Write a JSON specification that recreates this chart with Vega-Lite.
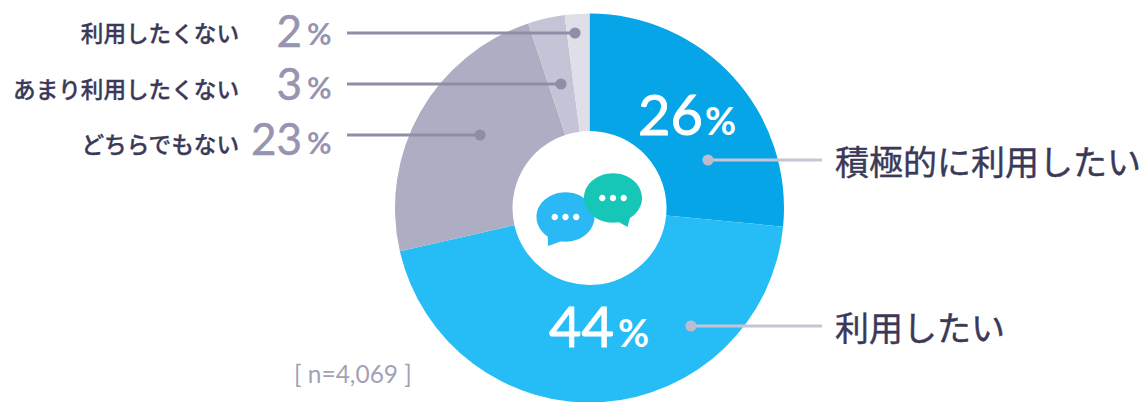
{
 "$schema":"https://vega.github.io/schema/vega-lite/v6.json",
 "width":1118,"height":388,
 "autosize":{"type":"none"},
 "padding":{"left":30.5,"top":14,"right":0,"bottom":0},
 "background":"white",
 "config":{"view":{"stroke":null}},
 "data":{"values":[
  {"rank":1,"category":"積極的に利用したい","share":26,"side":"right"},
  {"rank":2,"category":"利用したい","share":44,"side":"right"},
  {"rank":3,"category":"どちらでもない","share":23,"side":"left"},
  {"rank":4,"category":"あまり利用したくない","share":3,"side":"left"},
  {"rank":5,"category":"利用したくない","share":2,"side":"left"}
 ]},
 "transform":[
  {"calculate":"[160,326,135,84,33][datum.rank-1]","as":"lineY"},
  {"calculate":"[822,822,347,347,347][datum.rank-1]","as":"lineOuter"},
  {"calculate":"[708,691,480,561,575][datum.rank-1]","as":"lineInner"},
  {"calculate":"[165,331,146,91,35][datum.rank-1]","as":"labelY"},
  {"calculate":"[835,835,239,239,239][datum.rank-1]","as":"labelX"},
  {"calculate":"[703,614,302,302,302][datum.rank-1]","as":"numX"},
  {"calculate":"[135,347,155,100,47][datum.rank-1]","as":"numY"},
  {"calculate":"[705,618,307,307,307][datum.rank-1]","as":"pctX"},
  {"calculate":"[135,347,154,99,45][datum.rank-1]","as":"pctY"}
 ],
 "layer":[
  {"mark":{"type":"arc","innerRadius":77,"outerRadius":194.5},
   "encoding":{
    "theta":{"field":"share","type":"quantitative","stack":true},
    "order":{"field":"rank","type":"ordinal"},
    "color":{"field":"rank","type":"ordinal","legend":null,"scale":{"domain":[1,2,3,4,5],"range":["#05a5e8","#26bdf7","#adadc3","#c5c4d6","#dfdfe9"]}}
   }},
  {"mark":{"type":"rule","strokeWidth":3},
   "encoding":{
    "x":{"field":"lineOuter","type":"quantitative","axis":null,"scale":{"domain":[30.5,1148.5],"nice":false,"zero":false}},
    "x2":{"field":"lineInner"},
    "y":{"field":"lineY","type":"quantitative","axis":null,"scale":{"domain":[14,402],"reverse":true,"nice":false,"zero":false}},
    "color":{"field":"side","type":"nominal","legend":null,"scale":{"domain":["left","right"],"range":["#8f8da8","#c6c5d6"]}}
   }},
  {"mark":{"type":"point","filled":true,"opacity":1,"size":125},
   "encoding":{
    "x":{"field":"lineInner","type":"quantitative"},
    "y":{"field":"lineY","type":"quantitative"},
    "color":{"field":"side","type":"nominal","legend":null,"scale":{"domain":["left","right"],"range":["#8f8da8","#bdbccd"]}}
   }},
  {"transform":[{"filter":"datum.side==='left'"}],
   "mark":{"type":"text","align":"right","baseline":"middle","font":"Noto Sans CJK JP","fontWeight":500,"fontSize":22.6,"color":"#3a3957","stroke":"#3a3957","strokeWidth":0.3},
   "encoding":{"x":{"field":"labelX","type":"quantitative"},"y":{"field":"labelY","type":"quantitative"},"text":{"field":"category"}}},
  {"transform":[{"filter":"datum.side==='right'"}],
   "mark":{"type":"text","align":"left","baseline":"middle","font":"Noto Sans CJK JP","fontWeight":400,"fontSize":34,"color":"#3a3957","stroke":"#3a3957","strokeWidth":0.4},
   "encoding":{"x":{"field":"labelX","type":"quantitative"},"y":{"field":"labelY","type":"quantitative"},"text":{"field":"category"}}},
  {"transform":[{"filter":"datum.side==='left'"}],
   "mark":{"type":"text","align":"right","baseline":"alphabetic","font":"Lato","fontSize":44,"color":"#9694b0","stroke":"#9694b0","strokeWidth":0.5},
   "encoding":{"x":{"field":"numX","type":"quantitative"},"y":{"field":"numY","type":"quantitative"},"text":{"field":"share"}}},
  {"transform":[{"filter":"datum.side==='left'"},{"calculate":"'%'","as":"unit"}],
   "mark":{"type":"text","align":"left","baseline":"alphabetic","font":"Lato","fontWeight":700,"fontSize":30,"color":"#9694b0"},
   "encoding":{"x":{"field":"pctX","type":"quantitative"},"y":{"field":"pctY","type":"quantitative"},"text":{"field":"unit"}}},
  {"transform":[{"filter":"datum.side==='right'"}],
   "mark":{"type":"text","align":"right","baseline":"alphabetic","font":"Lato","fontSize":56,"color":"white","stroke":"white","strokeWidth":0.9},
   "encoding":{"x":{"field":"numX","type":"quantitative"},"y":{"field":"numY","type":"quantitative"},"text":{"field":"share"}}},
  {"transform":[{"filter":"datum.side==='right'"},{"calculate":"'%'","as":"unit"}],
   "mark":{"type":"text","align":"left","baseline":"alphabetic","font":"Lato","fontWeight":700,"fontSize":38,"color":"white"},
   "encoding":{"x":{"field":"pctX","type":"quantitative"},"y":{"field":"pctY","type":"quantitative"},"text":{"field":"unit"}}},
  {"data":{"values":[{"note":"[ n=4,069 ]"}]},
   "transform":[{"calculate":"294","as":"noteX"},{"calculate":"376","as":"noteY"}],
   "mark":{"type":"text","align":"left","baseline":"middle","font":"Lato","fontSize":24.5,"color":"#a2a2b6"},
   "encoding":{"x":{"field":"noteX","type":"quantitative"},"y":{"field":"noteY","type":"quantitative"},"text":{"field":"note"}}},
  {"data":{"values":[{"bubble":"blue"},{"bubble":"teal"}]},
   "transform":[
    {"calculate":"datum.bubble==='blue'?565.5:613","as":"bx"},
    {"calculate":"datum.bubble==='blue'?217:198","as":"by"}
   ],
   "mark":{"type":"point","filled":true,"opacity":1,"size":3364},
   "encoding":{
    "x":{"field":"bx","type":"quantitative"},
    "y":{"field":"by","type":"quantitative"},
    "shape":{"field":"bubble","type":"nominal","legend":null,"scale":{"domain":["blue","teal"],"range":[
     "M-1,0 A1,0.85 0 1 1 1,0 A1,0.85 0 1 1 -1,0 Z M-0.62,0.55 L-0.05,0.8 L-0.6,1 Z M-0.48,0 A0.11,0.11 0 1 0 -0.26,0 A0.11,0.11 0 1 0 -0.48,0 Z M-0.11,0 A0.11,0.11 0 1 0 0.11,0 A0.11,0.11 0 1 0 -0.11,0 Z M0.26,0 A0.11,0.11 0 1 0 0.48,0 A0.11,0.11 0 1 0 0.26,0 Z",
     "M-1,0 A1,0.85 0 1 1 1,0 A1,0.85 0 1 1 -1,0 Z M0.1,0.78 L0.62,0.55 L0.5,1 Z M-0.48,0 A0.11,0.11 0 1 0 -0.26,0 A0.11,0.11 0 1 0 -0.48,0 Z M-0.11,0 A0.11,0.11 0 1 0 0.11,0 A0.11,0.11 0 1 0 -0.11,0 Z M0.26,0 A0.11,0.11 0 1 0 0.48,0 A0.11,0.11 0 1 0 0.26,0 Z"
    ]}},
    "color":{"field":"bubble","type":"nominal","legend":null,"scale":{"domain":["blue","teal"],"range":["#2ab9f5","#16c6b6"]}}
   }}
 ],
 "resolve":{"scale":{"color":"independent"}}
}
